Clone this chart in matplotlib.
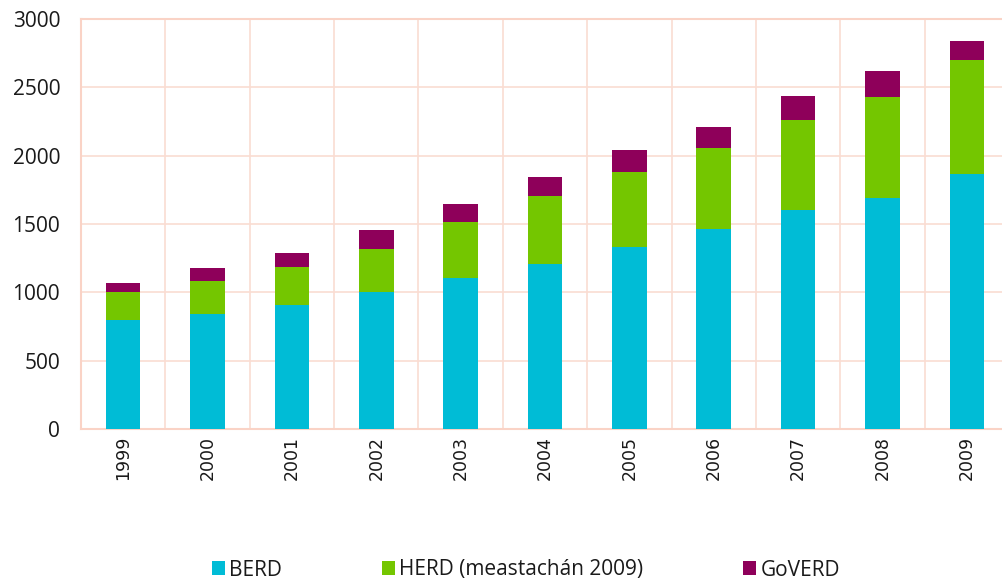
import matplotlib
matplotlib.use("Agg")
import matplotlib.pyplot as plt
import numpy as np

years = ["1999", "2000", "2001", "2002", "2003", "2004", "2005", "2006", "2007", "2008", "2009"]
berd = [796, 840, 904, 999, 1104, 1210, 1329, 1461, 1603, 1691, 1869]
herd = [208, 240, 281, 321, 411, 495, 555, 592, 657, 740, 831]
goverd = [66, 95, 102, 134, 129, 140, 154, 154, 179, 186, 137]
labels = ["BERD", "HERD (meastachán 2009)", "GoVERD"]
colors = ["#00BCD6", "#74C600", "#8E005A"]

plt.rcParams['font.family'] = ['Open Sans', 'DejaVu Sans']

fig = plt.figure(figsize=(10.02, 5.83), dpi=100)
ax = fig.add_axes([81/1002, 1-429/583, 928/1002, 410/583])

x = np.arange(len(years))
w = 0.41
b1 = np.array(berd)
b2 = b1 + np.array(herd)
ax.bar(x, berd, w, color=colors[0], label=labels[0], zorder=3)
ax.bar(x, herd, w, bottom=b1, color=colors[1], label=labels[1], zorder=3)
ax.bar(x, goverd, w, bottom=b2, color=colors[2], label=labels[2], zorder=3)

ax.set_xlim(-0.5, len(years) - 0.5)
ax.set_ylim(0, 3000)
ax.set_yticks(np.arange(0, 3001, 500))
ax.set_xticks(x)
ax.set_xticklabels(years, rotation=90)
for lab in ax.get_xticklabels():
    lab.set_fontfamily('DejaVu Sans')
    lab.set_fontsize(12.5)
    lab.set_color("#1a1a1a")
ax.set_xticks(np.arange(-0.5, len(years), 1), minor=True)
ax.tick_params(axis='y', length=0, pad=15, labelsize=15, labelcolor="#1a1a1a")
ax.tick_params(axis='x', which='both', length=0, pad=5)
ax.grid(True, axis='y', color="#FADDD2", linewidth=1.2, zorder=0)
ax.grid(True, axis='x', which='minor', color="#FADDD2", linewidth=1.2, zorder=0)
ax.grid(False, axis='x', which='major')
for s in ax.spines.values():
    s.set_color("#FAD3C6")
    s.set_linewidth(1.5)
ax.spines['right'].set_visible(False)

fig.legend(loc='center', bbox_to_anchor=(526/1002, 1-570/583), ncol=3, frameon=False,
           fontsize=15, handlelength=0.62, handleheight=0.62, handletextpad=0.2,
           columnspacing=4.8, labelcolor="#1a1a1a", borderpad=0, borderaxespad=0)

fig.savefig("out.png", dpi=100)
